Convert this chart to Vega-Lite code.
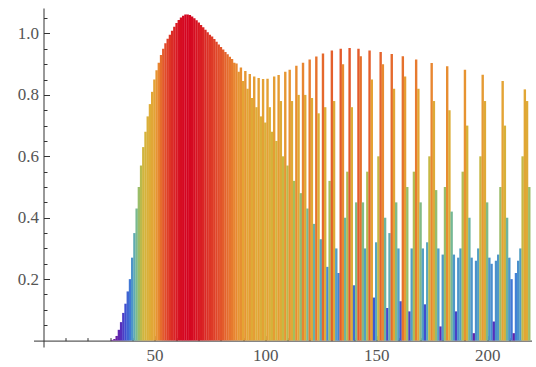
{
  "$schema": "https://vega.github.io/schema/vega-lite/v6.json",
  "width": 498,
  "height": 339,
  "autosize": "none",
  "padding": {"left": 33.5, "top": 8, "right": 4.5, "bottom": 20},
  "background": "white",
  "config": {"view": {"stroke": null}},
  "data": {"values": [
    {"x":31,"v":0.002},{"x":32,"v":0.005},{"x":33,"v":0.015},{"x":34,"v":0.035},{"x":35,"v":0.06},{"x":36,"v":0.09},{"x":37,"v":0.12},{"x":38,"v":0.16},{"x":39,"v":0.2},{"x":40,"v":0.27},
    {"x":41,"v":0.35},{"x":42,"v":0.43},{"x":43,"v":0.5},{"x":44,"v":0.57},{"x":45,"v":0.63},{"x":46,"v":0.68},{"x":47,"v":0.73},{"x":48,"v":0.77},{"x":49,"v":0.81},{"x":50,"v":0.85},
    {"x":51,"v":0.88},{"x":52,"v":0.905},{"x":53,"v":0.93},{"x":54,"v":0.95},{"x":55,"v":0.968},{"x":56,"v":0.983},{"x":57,"v":0.996},{"x":58,"v":1.009},{"x":59,"v":1.022},{"x":60,"v":1.034},
    {"x":61,"v":1.044},{"x":62,"v":1.052},{"x":63,"v":1.058},{"x":64,"v":1.062},{"x":65,"v":1.062},{"x":66,"v":1.06},{"x":67,"v":1.055},{"x":68,"v":1.05},{"x":69,"v":1.043},{"x":70,"v":1.036},
    {"x":71,"v":1.028},{"x":72,"v":1.02},{"x":73,"v":1.012},{"x":74,"v":1.004},{"x":75,"v":0.996},{"x":76,"v":0.99},{"x":77,"v":0.982},{"x":78,"v":0.973},{"x":79,"v":0.964},{"x":80,"v":0.956},
    {"x":81,"v":0.948},{"x":82,"v":0.94},{"x":83,"v":0.932},{"x":84,"v":0.924},{"x":85,"v":0.917},{"x":86,"v":0.905},{"x":87,"v":0.902},{"x":88,"v":0.875},{"x":89,"v":0.889},{"x":90,"v":0.845},
    {"x":91,"v":0.878},{"x":92,"v":0.82},{"x":93,"v":0.868},{"x":94,"v":0.79},{"x":95,"v":0.86},{"x":96,"v":0.76},{"x":97,"v":0.855},{"x":98,"v":0.73},{"x":99,"v":0.852},{"x":100,"v":0.71},
    {"x":101,"v":0.853},{"x":102,"v":0.76},{"x":103,"v":0.68},{"x":104,"v":0.86},{"x":105,"v":0.65},{"x":106,"v":0.865},{"x":107,"v":0.78},{"x":108,"v":0.6},{"x":109,"v":0.875},{"x":110,"v":0.57},
    {"x":111,"v":0.882},{"x":112,"v":0.78},{"x":113,"v":0.52},{"x":114,"v":0.895},{"x":115,"v":0.8},{"x":116,"v":0.48},{"x":117,"v":0.905},{"x":118,"v":0.8},{"x":119,"v":0.43},{"x":120,"v":0.915},
    {"x":121,"v":0.79},{"x":122,"v":0.38},{"x":123,"v":0.925},{"x":124,"v":0.74},{"x":125,"v":0.33},{"x":126,"v":0.935},{"x":127,"v":0.76},{"x":128,"v":0.24},{"x":129,"v":0.52},{"x":130,"v":0.945},
    {"x":131,"v":0.78},{"x":132,"v":0.3},{"x":133,"v":0.22},{"x":134,"v":0.95},{"x":135,"v":0.9},{"x":136,"v":0.4},{"x":137,"v":0.55},{"x":138,"v":0.953},{"x":139,"v":0.76},{"x":140,"v":0.18},
    {"x":141,"v":0.45},{"x":142,"v":0.95},{"x":143,"v":0.926},{"x":144,"v":0.45},{"x":145,"v":0.3},{"x":146,"v":0.55},{"x":147,"v":0.945},{"x":148,"v":0.85},{"x":149,"v":0.14},{"x":150,"v":0.32},
    {"x":151,"v":0.6},{"x":152,"v":0.94},{"x":153,"v":0.9},{"x":154,"v":0.4},{"x":155,"v":0.106},{"x":156,"v":0.35},{"x":157,"v":0.933},{"x":158,"v":0.82},{"x":159,"v":0.45},{"x":160,"v":0.3},
    {"x":161,"v":0.128},{"x":162,"v":0.926},{"x":163,"v":0.86},{"x":164,"v":0.5},{"x":165,"v":0.095},{"x":166,"v":0.3},{"x":167,"v":0.55},{"x":168,"v":0.915},{"x":169,"v":0.82},{"x":170,"v":0.45},
    {"x":171,"v":0.3},{"x":172,"v":0.118},{"x":173,"v":0.32},{"x":174,"v":0.6},{"x":175,"v":0.904},{"x":176,"v":0.78},{"x":177,"v":0.49},{"x":178,"v":0.3},{"x":179,"v":0.046},{"x":180,"v":0.28},
    {"x":181,"v":0.5},{"x":182,"v":0.893},{"x":183,"v":0.75},{"x":184,"v":0.42},{"x":185,"v":0.28},{"x":186,"v":0.095},{"x":187,"v":0.27},{"x":188,"v":0.3},{"x":189,"v":0.55},{"x":190,"v":0.882},
    {"x":191,"v":0.7},{"x":192,"v":0.4},{"x":193,"v":0.27},{"x":194,"v":0.024},{"x":195,"v":0.26},{"x":196,"v":0.3},{"x":197,"v":0.6},{"x":198,"v":0.866},{"x":199,"v":0.78},{"x":200,"v":0.45},
    {"x":201,"v":0.27},{"x":202,"v":0.25},{"x":203,"v":0.062},{"x":204,"v":0.26},{"x":205,"v":0.28},{"x":206,"v":0.5},{"x":207,"v":0.845},{"x":208,"v":0.7},{"x":209,"v":0.4},{"x":210,"v":0.27},
    {"x":211,"v":0.2},{"x":212,"v":0.024},{"x":213,"v":0.22},{"x":214,"v":0.26},{"x":215,"v":0.3},{"x":216,"v":0.6},{"x":217,"v":0.818},{"x":218,"v":0.78},{"x":219,"v":0.5}
  ]},
  "layer": [
    {
      "mark": {"type": "rule", "strokeWidth": 2.4},
      "encoding": {
        "x": {"field": "x", "type": "quantitative",
          "scale": {"domain": [-4.5, 220], "nice": false, "zero": false},
          "axis": {"orient": "bottom", "values": [50, 100, 150, 200], "title": null, "offset": -6.4,
            "grid": false, "domainColor": "#333333", "tickColor": "#333333", "tickSize": -5, "labelPadding": 12,
            "labelFont": "Liberation Serif", "labelFontSize": 17, "labelColor": "#555555"}},
        "y": {"field": "v", "type": "quantitative",
          "scale": {"domain": [-0.021, 1.083], "nice": false, "zero": false},
          "axis": {"orient": "left", "values": [0.2, 0.4, 0.6, 0.8, 1.0], "format": ".1f", "title": null, "offset": -10,
            "grid": false, "domainColor": "#333333", "tickColor": "#333333", "tickSize": -6, "labelPadding": 11,
            "labelFont": "Liberation Serif", "labelFontSize": 17, "labelColor": "#555555"}},
        "y2": {"datum": 0},
        "color": {"field": "v", "type": "quantitative", "legend": null,
          "scale": {"type": "linear", "interpolate": "rgb",
            "domain": [0, 0.05, 0.12, 0.22, 0.32, 0.42, 0.52, 0.62, 0.75, 0.85, 0.9, 0.96, 1.02],
            "range": ["#6a1c9c", "#5a2ab8", "#3f4fd0", "#4182d6", "#58a6be", "#74b896", "#a4be5c", "#cfb63e", "#dcae38", "#e4a234", "#e88a30", "#e2502a", "#da2424"]}}
      }
    },
    {
      "mark": {"type": "rule", "opacity": 0},
      "encoding": {
        "x": {"field": "x", "type": "quantitative",
          "axis": {"orient": "bottom", "values": [10,20,30,40,60,70,80,90,110,120,130,140,160,170,180,190,210], "labels": false, "domain": false, "title": null, "offset": -6.4,
            "grid": false, "tickColor": "#333333", "tickSize": -3}},
        "y": {"field": "v", "type": "quantitative",
          "axis": {"orient": "left", "values": [0.05,0.1,0.15,0.25,0.3,0.35,0.45,0.5,0.55,0.65,0.7,0.75,0.85,0.9,0.95,1.05], "labels": false, "domain": false, "title": null, "offset": -10,
            "grid": false, "tickColor": "#333333", "tickSize": -3.5}},
        "y2": {"datum": 0}
      }
    }
  ],
  "resolve": {"axis": {"x": "independent", "y": "independent"}}
}
